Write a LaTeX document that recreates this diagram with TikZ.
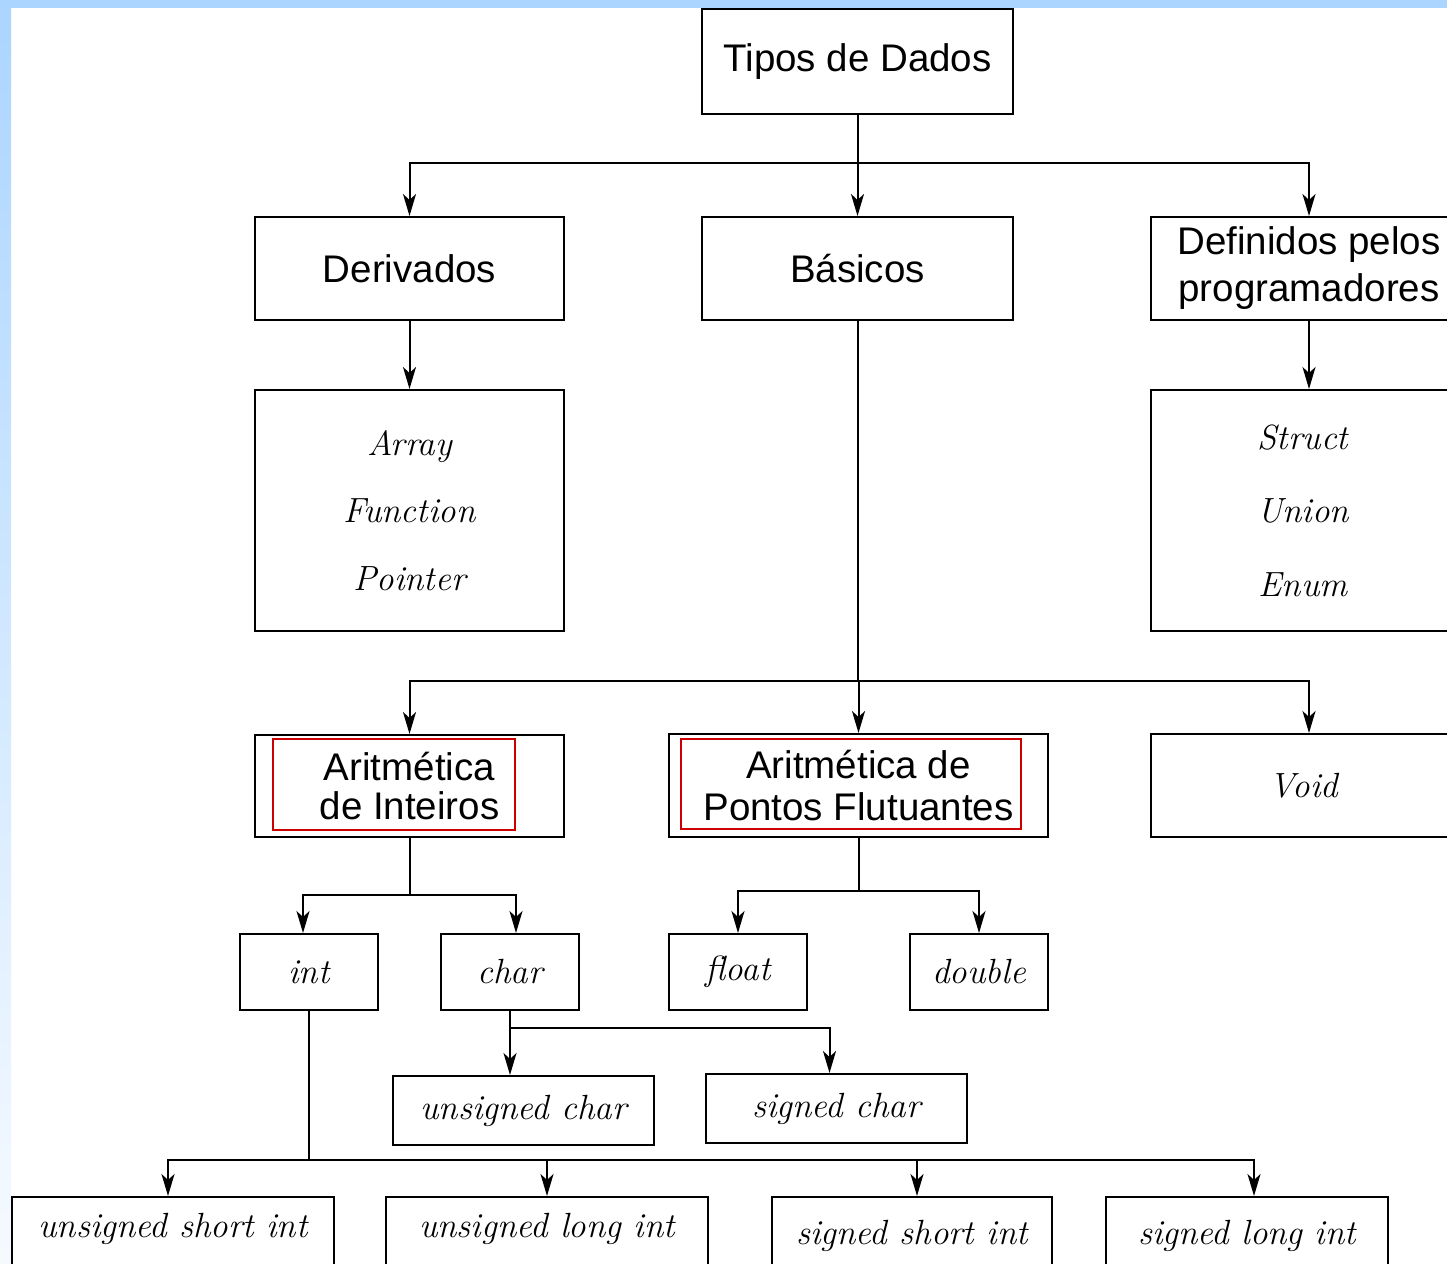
\documentclass[tikz,border=0pt]{standalone}
\usepackage{fontspec}
\newfontfamily\sansfam{Liberation Sans}
\usetikzlibrary{arrows.meta}
\definecolor{stripBlue}{RGB}{171,213,255}
\definecolor{stripPale}{RGB}{246,250,255}
\definecolor{frameRed}{RGB}{204,0,0}
\begin{document}
\begin{tikzpicture}[x=1pt,y=-1pt,
  box/.style={draw=black, line width=2pt, inner sep=0pt, align=center},
  sbox/.style={box, font=\sansfam\fontsize{38.5}{46}\selectfont},
  ibox/.style={box, font=\itshape\fontsize{35}{42}\selectfont},
  lowA/.style={ibox, anchor=north, text height=40pt, text depth=36pt},
  lowB/.style={ibox, anchor=north, text height=47pt, text depth=29pt},
  redframe/.style={draw=frameRed, line width=2pt, inner sep=0pt},
  link/.style={draw=black, line width=2pt},
  arr/.style={link, -{Stealth[length=22pt,width=13pt,inset=6pt]}},
]
\useasboundingbox (0,0) rectangle (1447,1263);
\clip (0,0) rectangle (1447,1263);

% page background with the blue frame strips
\fill[white] (0,0) rectangle (1447,1263);
\fill[stripBlue] (0,0) rectangle (1447,8);
\shade[top color=stripBlue, bottom color=stripPale] (0,0) rectangle (11,1263);

% root and first level
\node[sbox, minimum width=311, minimum height=105] (tipos) at (857.5,61.5) {Tipos de Dados};
\node[sbox, minimum width=309, minimum height=103] (deriv) at (409.5,268.5) {Derivados};
\node[sbox, minimum width=311, minimum height=103] (basic) at (857.5,268.5) {Básicos};
\node[sbox, minimum width=316, minimum height=103,
      font=\sansfam\fontsize{38.5}{47}\selectfont] (defin) at (1309,268.5) {Definidos pelos\\programadores};

% derived and user-defined kinds
\node[ibox, minimum width=309, minimum height=241,
      font=\itshape\fontsize{35}{67.5}\selectfont] (derivlist) at (409.5,510.5) {Array\\Function\\Pointer};
\node[ibox, minimum width=304, minimum height=241,
      font=\itshape\fontsize{35}{73.5}\selectfont] (deflist) at (1303,510.5) {Struct\\Union\\Enum};

% basic kinds
\node[sbox, minimum width=309, minimum height=102,
      font=\sansfam\fontsize{38.5}{39.5}\selectfont] (intar) at (409.5,786) {Aritmética\\de Inteiros};
\node[redframe, minimum width=242, minimum height=91] (intframe) at (394,784.5) {};
\node[sbox, minimum width=379, minimum height=103,
      font=\sansfam\fontsize{38.5}{42}\selectfont] (fltar) at (858.5,785.5) {Aritmética de\\Pontos Flutuantes};
\node[redframe, minimum width=340, minimum height=90] (fltframe) at (851,784) {};
\node[ibox, minimum width=306, minimum height=103] (void) at (1304,785.5) {Void};

% primitive types
\node[ibox, minimum width=138, minimum height=76] (int) at (309,972) {int};
\node[ibox, minimum width=138, minimum height=76] (char) at (510,972) {char};
\node[ibox, minimum width=138, minimum height=76] (float) at (738,972) {float};
\node[ibox, minimum width=138, minimum height=76] (double) at (979,972) {double};

% char variants
\node[ibox, minimum width=261, minimum height=69] (uchar) at (523.5,1110.5) {unsigned char};
\node[ibox, minimum width=261, minimum height=69] (schar) at (836.5,1108.5) {signed char};

% int variants
\node[lowA, minimum width=322] (usi) at (173,1196) {unsigned short int};
\node[lowA, minimum width=322] (uli) at (547,1196) {unsigned long int};
\node[lowB, minimum width=280] (ssi) at (912,1196) {signed short int};
\node[lowB, minimum width=282] (sli) at (1247,1196) {signed long int};

% connectors
\draw[link] (tipos.south) -- ++(0,48) coordinate (t1);
\draw[arr] (t1) -| (deriv.north);
\draw[arr] (t1) -- (basic.north);
\draw[arr] (t1) -| (defin.north);

\draw[arr] (deriv.south) -- (deriv.south |- derivlist.north);
\draw[arr] (defin.south) -- (defin.south |- deflist.north);

\draw[link] (basic.south) -- ++(0,360) coordinate (b1);
\draw[arr] (b1) -| (intar.north);
\draw[arr] (b1) -| (fltar.north);
\draw[arr] (b1) -| (defin.south |- void.north);

\draw[link] (intar.south) -- ++(0,57) coordinate (a1);
\draw[arr] (a1) -| ([xshift=-6pt]int.north);
\draw[arr] (a1) -| ([xshift=6pt]char.north);

\draw[link] (fltar.south) -- ++(0,53) coordinate (f1);
\draw[arr] (f1) -| (float.north);
\draw[arr] (f1) -| (double.north);

\draw[link] (char.south) -- ++(0,17) coordinate (c1);
\draw[arr] (c1) -- (c1 |- uchar.north);
\draw[arr] (c1) -| ([xshift=-7pt]schar.north);

\draw[link] (int.south) -- ++(0,149) coordinate (i2);
\draw[arr] (i2) -| ([xshift=-5pt]usi.north);
\draw[arr] (i2) -| (uli.north);
\draw[arr] (i2) -| ([xshift=5pt]ssi.north);
\draw[arr] (i2) -| ([xshift=7pt]sli.north);
\end{tikzpicture}
\end{document}
